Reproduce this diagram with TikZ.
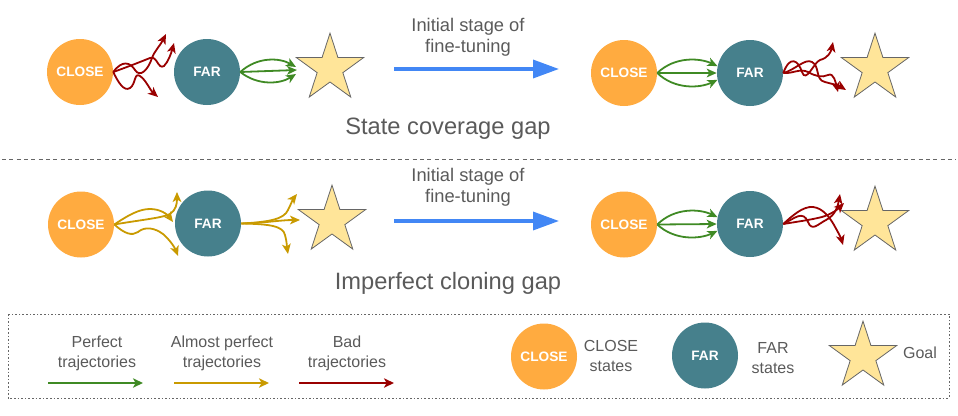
\documentclass[tikz,border=0pt]{standalone}
\usepackage{fontspec}
\setmainfont{Liberation Sans}
\usetikzlibrary{shapes.geometric,arrows.meta}
\definecolor{cOrange}{HTML}{FFAB40}
\definecolor{cTeal}{HTML}{46808C}
\definecolor{cStar}{HTML}{FFE599}
\definecolor{cStarLine}{HTML}{666666}
\definecolor{cGreen}{HTML}{3F8A24}
\definecolor{cGold}{HTML}{C99A00}
\definecolor{cRed}{HTML}{990000}
\definecolor{cBlue}{HTML}{4287F5}
\definecolor{cText}{HTML}{5A5A5A}
\begin{document}
\begin{tikzpicture}[x=0.75pt,y=-0.75pt,
  closenode/.style={circle,fill=cOrange,minimum size=49.5pt,inner sep=0pt,text=white,font=\bfseries\fontsize{10.25}{12}\selectfont},
  farnode/.style={circle,fill=cTeal,minimum size=49.5pt,inner sep=0pt,text=white,font=\bfseries\fontsize{10.25}{12}\selectfont},
  goal/.style={star,star points=5,star point ratio=2.618,minimum size=53pt,inner sep=0pt,fill=cStar,draw=cStarLine,line width=0.6pt},
  traj/.style={line width=1.35pt,-{Stealth[length=7.5pt,width=6.5pt,inset=2pt]}},
  good/.style={traj,draw=cGreen},
  almost/.style={traj,draw=cGold},
  bad/.style={traj,draw=cRed},
  stagearrow/.style={draw=cBlue,line width=2.6pt,-{Triangle[length=19.5pt,width=13.5pt]}},
  stagetext/.style={text=cText,align=center,font=\fontsize{13.75}{15.75}\selectfont},
  gaptext/.style={text=cText,font=\fontsize{17.75}{20}\selectfont},
  legtext/.style={text=cText,align=center,font=\fontsize{12}{15}\selectfont},
  legarrow/.style={line width=1.6pt,-{Stealth[length=7.5pt,width=7pt,inset=2pt]}}
]
\useasboundingbox (0,0) rectangle (958,415);

% ---------------- top row ----------------
\node[closenode] (c1) at (80,72) {CLOSE};
\node[farnode] (f1) at (207,72) {FAR};
\node[goal] (s1) at (330,68.5) {};
\node[closenode] (c2) at (624,73) {CLOSE};
\node[farnode] (f2) at (750,73) {FAR};
\node[goal] (s2) at (875,68.5) {};

\coordinate (ta1) at (166,34);
\coordinate (ta2) at (174,43);
\coordinate (ta3) at (158,97);
\draw[bad] (c1.east) .. controls (122,60) and (130,62) .. (135,70) .. controls (140,78) and (148,70) .. (152,58) .. controls (155,50) and (160,46) .. (ta1);
\draw[bad] (c1.east) .. controls (130,66) and (140,62) .. (150,58) .. controls (157,55) and (158,70) .. (164,66) .. controls (168,62) and (171,54) .. (ta2);
\draw[bad] (c1.east) .. controls (118,82) and (124,92) .. (130,88) .. controls (136,84) and (134,72) .. (140,76) .. controls (146,80) and (150,90) .. (ta3);

\coordinate (tg1) at (296,67);
\coordinate (tg2) at (297,70);
\coordinate (tg3) at (296,74);
\draw[good] (f1.east) .. controls (258,56) and (280,58) .. (tg1);
\draw[good] (f1.east) -- (tg2);
\draw[good] (f1.east) .. controls (258,86) and (280,84) .. (tg3);

\node[stagetext] (st1) at (468,37.5) {Initial stage of\\fine-tuning};
\coordinate (ba1) at (394,69);
\coordinate (bb1) at (559,69);
\draw[stagearrow] (ba1) -- (bb1);

\draw[good] (c2.east) .. controls (675,56) and (700,58) .. (f2.168);
\draw[good] (c2.east) -- (f2.west);
\draw[good] (c2.east) .. controls (675,90) and (700,88) .. (f2.192);

\coordinate (tr1) at (833,42);
\coordinate (tr2) at (846,90);
\coordinate (tr3) at (838,92);
\draw[bad] (f2.east) .. controls (790,55) and (798,60) .. (802,72) .. controls (806,84) and (814,62) .. (820,60) .. controls (828,58) and (831,52) .. (tr1);
\draw[bad] (f2.east) .. controls (795,70) and (805,58) .. (812,62) .. controls (820,66) and (815,80) .. (825,82) .. controls (832,84) and (838,85) .. (tr2);
\draw[bad] (f2.east) .. controls (792,74) and (800,68) .. (808,72) .. controls (815,76) and (822,78) .. (828,75) .. controls (834,72) and (836,84) .. (tr3);

\node[gaptext] (gap1) at (448,129) {State coverage gap};

% separator
\coordinate (sepL) at (2,159);
\coordinate (sepR) at (956,159);
\draw[cStarLine,line width=0.6pt,dash pattern=on 3pt off 2.5pt] (sepL) -- (sepR);

% ---------------- bottom row ----------------
\node[closenode] (c3) at (81,224.5) {CLOSE};
\node[farnode] (f3) at (208,223.5) {FAR};
\node[goal] (s3) at (332,220.5) {};
\node[closenode] (c4) at (624,224.5) {CLOSE};
\node[farnode] (f4) at (750,224) {FAR};
\node[goal] (s4) at (875,221.5) {};

\coordinate (ag1) at (173,222);
\coordinate (ag2) at (177,192);
\coordinate (ag3) at (178,256);
\draw[almost] (c3.east) .. controls (130,214) and (140,209) .. (150,209) .. controls (160,209) and (167,214) .. (ag1);
\draw[almost] (c3.east) .. controls (140,220) and (162,218) .. (170,214) .. controls (176,210) and (177,204) .. (ag2);
\draw[almost] (c3.east) .. controls (125,234) and (132,236) .. (138,232) .. controls (145,226) and (155,228) .. (163,234) .. controls (170,240) and (175,248) .. (ag3);

\coordinate (ah1) at (297,194);
\coordinate (ah2) at (300,220);
\coordinate (ah3) at (288,254);
\draw[almost] (f3.east) .. controls (270,222) and (284,219) .. (288,210) .. controls (291,204) and (293,199) .. (ah1);
\draw[almost] (f3.east) .. controls (265,223) and (280,220) .. (ah2);
\draw[almost] (f3.east) .. controls (270,224) and (283,226) .. (285,235) .. controls (287,242) and (287,248) .. (ah3);

\node[stagetext] (st2) at (468,187) {Initial stage of\\fine-tuning};
\coordinate (ba2) at (394,221);
\coordinate (bb2) at (559,221);
\draw[stagearrow] (ba2) -- (bb2);

\draw[good] (c4.east) .. controls (675,207) and (700,209) .. (f4.168);
\draw[good] (c4.east) -- (f4.west);
\draw[good] (c4.east) .. controls (675,241) and (700,239) .. (f4.192);

\coordinate (br1) at (843,245);
\coordinate (br2) at (840,194);
\coordinate (br3) at (844,203);
\draw[bad] (f4.east) .. controls (792,216) and (803,206) .. (813,207) .. controls (823,208) and (830,218) .. (834,225) .. controls (838,232) and (841,238) .. (br1);
\draw[bad] (f4.east) .. controls (795,218) and (803,210) .. (808,222) .. controls (812,232) and (818,224) .. (826,220) .. controls (836,215) and (838,205) .. (br2);
\draw[bad] (f4.east) .. controls (795,222) and (810,220) .. (822,217) .. controls (832,214) and (838,209) .. (br3);

\node[gaptext] (gap2) at (448,283) {Imperfect cloning gap};

% ---------------- legend ----------------
\coordinate (lgA) at (8,314);
\coordinate (lgB) at (949,398);
\draw[cStarLine,line width=0.6pt,dash pattern=on 1.2pt off 1.5pt] (lgA) rectangle (lgB);

\node[legtext] (lt1) at (97,353) {Perfect\\trajectories};
\coordinate (la1) at (48,383);
\coordinate (lb1) at (143,383);
\draw[legarrow,draw=cGreen] (la1) -- (lb1);

\node[legtext] (lt2) at (222,353) {Almost perfect\\trajectories};
\coordinate (la2) at (174,383);
\coordinate (lb2) at (269,383);
\draw[legarrow,draw=cGold] (la2) -- (lb2);

\node[legtext] (lt3) at (347,353) {Bad\\trajectories};
\coordinate (la3) at (299,383);
\coordinate (lb3) at (394,383);
\draw[legarrow,draw=cRed] (la3) -- (lb3);

\node[closenode] (cl) at (544,356.5) {CLOSE};
\node[legtext] (clt) at (611,355.5) {CLOSE\\states};
\node[farnode] (fl) at (705,355.5) {FAR};
\node[legtext] (flt) at (773,358.5) {FAR\\states};
\node[goal] (sl) at (863,356.5) {};
\node[legtext] (slt) at (920,353) {Goal};
\end{tikzpicture}
\end{document}
